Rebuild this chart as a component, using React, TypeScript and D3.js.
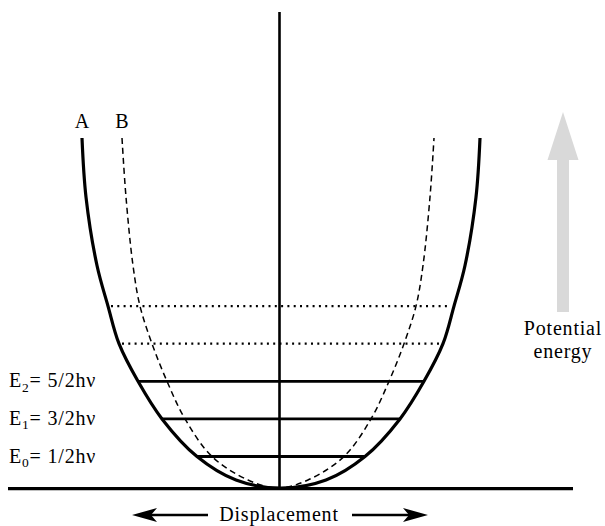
import React from "react";
import * as d3 from "d3";

// Potential energy (in units of hν) at which the well half-widths are sampled
const curveEnergy = [-0.34, -0.125, 0.5, 1.5, 2.5, 3.5, 4.5, 5.58, 7.4, 8.97];
// Half-width of the harmonic-like well A (solid) at each energy, displacement units
const curveAHalf = [0, 0.225, 0.42, 0.595, 0.715, 0.81, 0.865, 0.92, 0.975, 0.995];
// Half-width of the narrower well B (dashed)
const curveBHalf = [0, 0.15, 0.33, 0.465, 0.555, 0.63, 0.69, 0.725, 0.76, 0.78];
const centerA = 0.005;
const centerB = -0.01;

// Vibrational levels (labelled) and further levels (dotted)
const levelEnergies = [0.5, 1.5, 2.5];
const levelSubscripts = ["0", "1", "2"];
const levelFractions = ["1/2", "3/2", "5/2"];
const upperLevels = [3.5, 4.5];

const curveNames = ["A", "B"];

const W = 605;
const H = 526;
const FONT = "'Liberation Serif', 'Times New Roman', serif";
const FS = 20;
const LS = 0.8;

export default function App() {
  const x = d3.scaleLinear().domain([-1, 1]).range([80, 480]);
  const y = d3.scaleLinear().domain([0, 10]).range([475.3, 99.3]);
  const floorE = curveEnergy[0];

  const hwA = d3.scaleLinear().domain(curveEnergy).range(curveAHalf);

  const wellPoints = (half: number[], c: number): [number, number][] => {
    const left = curveEnergy
      .map((e, i) => [c - half[i], e] as [number, number])
      .reverse();
    const right = curveEnergy
      .slice(1)
      .map((e, i) => [c + half[i + 1], e] as [number, number]);
    return [...left, ...right];
  };

  const line = d3
    .line<[number, number]>()
    .x((d) => x(d[0]))
    .y((d) => y(d[1]))
    .curve(d3.curveCatmullRom.alpha(0.5));

  const pathA = line(wellPoints(curveAHalf, centerA)) || "";
  const pathB = line(wellPoints(curveBHalf, centerB)) || "";

  const topE = curveEnergy[curveEnergy.length - 1];
  const labelX = [
    x(centerA - curveAHalf[curveAHalf.length - 1]),
    x(centerB - curveBHalf[curveBHalf.length - 1]),
  ];

  const baseY = y(floorE) + 0.5;
  const axisX = x(0) - 0.5;

  // Potential energy arrow geometry
  const peX = 563;
  const peTip = 112;
  const peHeadBase = 160;
  const peBottom = 312;

  return (
    <svg
      width={W}
      height={H}
      style={{ position: "absolute", left: 0, top: 0, display: "block", background: "#fff" }}
    >
      {/* vertical energy axis */}
      <line x1={axisX} x2={axisX} y1={12} y2={baseY} stroke="#000" strokeWidth={2.6} />
      {/* displacement baseline */}
      <line x1={8} x2={573} y1={baseY} y2={baseY} stroke="#000" strokeWidth={3.2} />

      {/* dotted higher levels */}
      {upperLevels.map((e) => {
        const hw = hwA(e);
        return (
          <line
            key={e}
            x1={x(centerA - hw) + 3}
            x2={x(centerA + hw) - 3}
            y1={y(e)}
            y2={y(e)}
            stroke="#000"
            strokeWidth={2.2}
            strokeDasharray="2,4.3"
          />
        );
      })}

      {/* labelled levels */}
      {levelEnergies.map((e) => {
        const hw = hwA(e);
        return (
          <line
            key={e}
            x1={x(centerA - hw)}
            x2={x(centerA + hw)}
            y1={y(e)}
            y2={y(e)}
            stroke="#000"
            strokeWidth={2.8}
          />
        );
      })}

      {/* wells */}
      <path d={pathB} fill="none" stroke="#000" strokeWidth={1.5} strokeDasharray="6,4" />
      <path d={pathA} fill="none" stroke="#000" strokeWidth={3.2} />

      {/* well names */}
      {curveNames.map((n, i) => (
        <text
          key={n}
          x={labelX[i]}
          y={y(topE) - 10}
          textAnchor="middle"
          fontFamily={FONT}
          fontSize={FS}
          fill="#000"
        >
          {n}
        </text>
      ))}

      {/* level labels */}
      {levelEnergies.map((e, i) => (
        <text
          key={e}
          x={9}
          y={y(e) + 6}
          fontFamily={FONT}
          fontSize={FS}
          letterSpacing={LS}
          fill="#000"
        >
          E
          <tspan fontSize={13.5} dy={4.5}>
            {levelSubscripts[i]}
          </tspan>
          <tspan dy={-4.5}>{`= ${levelFractions[i]}hν`}</tspan>
        </text>
      ))}

      {/* potential energy arrow */}
      <path
        d={`M${peX},${peTip} L${peX + 15.5},${peHeadBase} L${peX + 6},${peHeadBase} L${peX + 6},${peBottom} L${peX - 6},${peBottom} L${peX - 6},${peHeadBase} L${peX - 15.5},${peHeadBase} Z`}
        fill="#d9d9d9"
      />
      <text
        x={peX}
        y={335}
        textAnchor="middle"
        fontFamily={FONT}
        fontSize={FS}
        letterSpacing={LS}
        fill="#000"
      >
        Potential
      </text>
      <text
        x={peX}
        y={358}
        textAnchor="middle"
        fontFamily={FONT}
        fontSize={FS}
        letterSpacing={LS}
        fill="#000"
      >
        energy
      </text>

      {/* displacement arrows */}
      <line x1={208} x2={145} y1={515} y2={515} stroke="#000" strokeWidth={2.6} />
      <path d="M132,515 L157,508 L151,515 L157,522 Z" fill="#000" />
      <line x1={352} x2={415} y1={515} y2={515} stroke="#000" strokeWidth={2.6} />
      <path d="M428,515 L403,508 L409,515 L403,522 Z" fill="#000" />
      <text
        x={279}
        y={521}
        textAnchor="middle"
        fontFamily={FONT}
        fontSize={FS}
        letterSpacing={LS}
        fill="#000"
      >
        Displacement
      </text>
    </svg>
  );
}
